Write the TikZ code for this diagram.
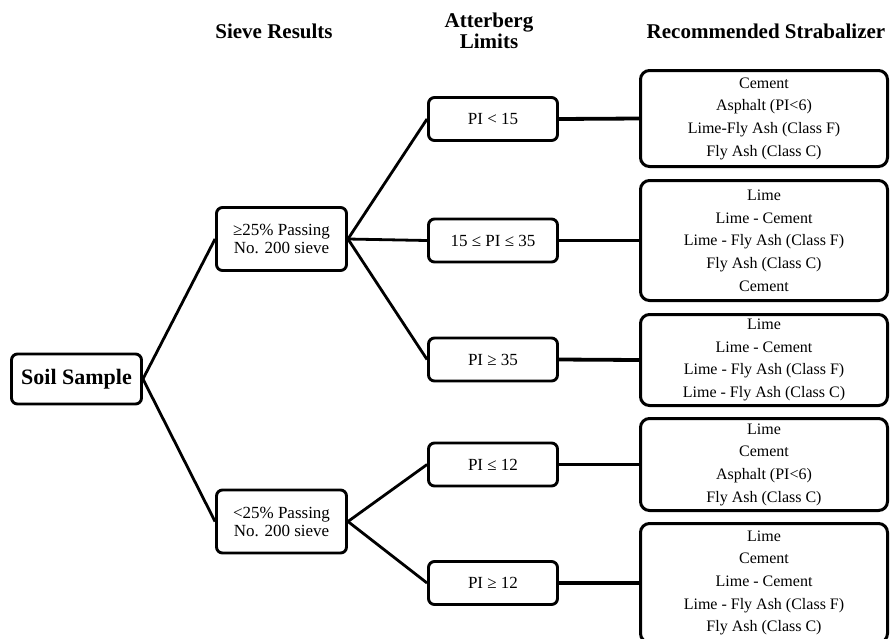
\documentclass[tikz,border=0pt]{standalone}
\usepackage{fontspec}
\setmainfont{Liberation Serif}
\begin{document}
\begin{tikzpicture}[x=1pt,y=-1pt,
  box/.style={draw,line width=2.9pt,rounded corners=6pt,fill=white,inner sep=0pt,align=center},
  soilbox/.style={box,minimum width=130pt,minimum height=50pt,font=\fontsize{22}{24}\selectfont\bfseries},
  sievebox/.style={box,minimum width=130pt,minimum height=63pt,font=\fontsize{17}{18}\selectfont},
  pibox/.style={box,minimum width=129pt,minimum height=43pt,font=\fontsize{17}{18}\selectfont},
  recbox/.style={box,line width=3pt,rounded corners=9pt,minimum width=247pt,font=\fontsize{16}{22.7}\selectfont},
  head/.style={inner sep=0pt,align=center,font=\fontsize{21}{21}\selectfont\bfseries},
  diag/.style={line width=2.8pt},
  horiz/.style={line width=3.8pt}]
\useasboundingbox (0,0) rectangle (890,638);
\fill[white] (0,0) rectangle (890,638);
\clip (0,0) rectangle (890,638);

% headers
\node[head,anchor=base] (h1) at (274,38) {Sieve Results};
\node[head,anchor=base] (h2) at (489,48) {Atterberg\\Limits};
\node[head,anchor=base] (h3) at (766,38) {Recommended Strabalizer};

% nodes
\node[soilbox] (soil) at (76.5,379) {Soil Sample};
\node[sievebox] (s1) at (281.5,239) {≥25\% Passing\\No. 200 sieve};
\node[sievebox] (s2) at (281.5,521.5) {<25\% Passing\\No. 200 sieve};

\node[pibox] (p1) at (493,119) {PI < 15};
\node[pibox] (p2) at (493,240.5) {15 ≤ PI ≤ 35};
\node[pibox] (p3) at (493,359.5) {PI ≥ 35};
\node[pibox] (p4) at (493,464.5) {PI ≤ 12};
\node[pibox] (p5) at (493,583) {PI ≥ 12};

\node[recbox,minimum height=96pt] (r1) at (764,118.5) {Cement\\Asphalt (PI<6)\\Lime-Fly Ash (Class F)\\Fly Ash (Class C)};
\node[recbox,minimum height=120pt] (r2) at (764,240.5) {Lime\\Lime - Cement\\Lime - Fly Ash (Class F)\\Fly Ash (Class C)\\Cement};
\node[recbox,minimum height=91pt] (r3) at (764,360) {Lime\\Lime - Cement\\Lime - Fly Ash (Class F)\\Lime - Fly Ash (Class C)};
\node[recbox,minimum height=92pt] (r4) at (764,464.5) {Lime\\Cement\\Asphalt (PI<6)\\Fly Ash (Class C)};
\node[recbox,minimum height=119pt] (r5) at (764,583) {Lime\\Cement\\Lime - Cement\\Lime - Fly Ash (Class F)\\Fly Ash (Class C)};

% connectors
\draw[diag] (soil.east) -- (s1.west);
\draw[diag] (soil.east) -- (s2.west);
\draw[diag] (s1.east) -- (p1.west);
\draw[diag] (s1.east) -- (p2.west);
\draw[diag] (s1.east) -- (p3.west);
\draw[diag] (s2.east) -- (p4.west);
\draw[diag] (s2.east) -- (p5.west);
\draw[horiz] (p1.east) -- (r1.west);
\draw[horiz] (p2.east) -- (r2.west);
\draw[horiz] (p3.east) -- (r3.west);
\draw[horiz] (p4.east) -- (r4.west);
\draw[horiz] (p5.east) -- (r5.west);
\end{tikzpicture}
\end{document}
